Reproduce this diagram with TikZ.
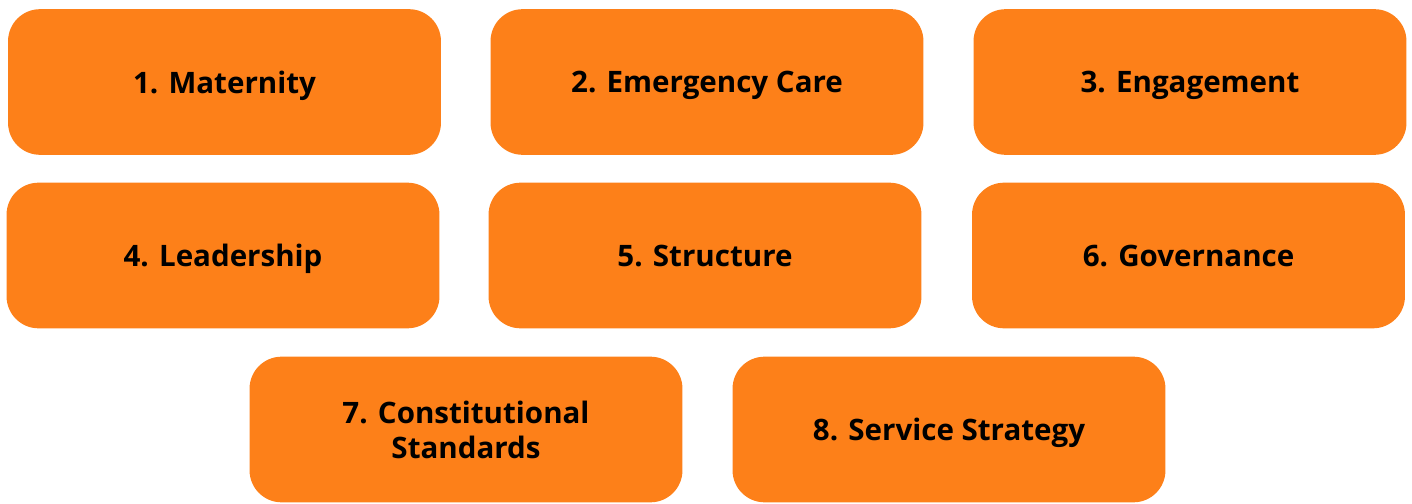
\documentclass[tikz,border=0pt]{standalone}
\usepackage{fontspec}
\setmainfont{Open Sans}
\usetikzlibrary{positioning}
\definecolor{kastenorange}{RGB}{253,128,25}

\begin{document}
\begin{tikzpicture}[x=0.025cm, y=-0.025cm,
    kasten/.style={fill=kastenorange, draw=none, rounded corners=0.8cm,
        minimum width=10.82cm, minimum height=3.64cm, align=center,
        text depth=0pt,
        font=\fontsize{21}{25}\selectfont\bfseries, text=black}]

    \useasboundingbox (0,0) rectangle (1412,504);

    % erste Reihe
    \node[kasten] (maternity)  at (224.5,82) {1. Maternity};
    \node[kasten] (emergency)  at (707,82)   {2. Emergency Care};
    \node[kasten] (engagement) at (1190,82)  {3. Engagement};

    % zweite Reihe
    \node[kasten] (leadership) at (223,255.5)    {4. Leadership};
    \node[kasten] (structure)  at (705,255.5)    {5. Structure};
    \node[kasten] (governance) at (1188.5,255.5) {6. Governance};

    % dritte Reihe
    \node[kasten] (standards) at (466,429.5) {7. Constitutional\\Standards};
    \node[kasten] (strategy)  at (949,429.5) {8. Service Strategy};

\end{tikzpicture}
\end{document}
